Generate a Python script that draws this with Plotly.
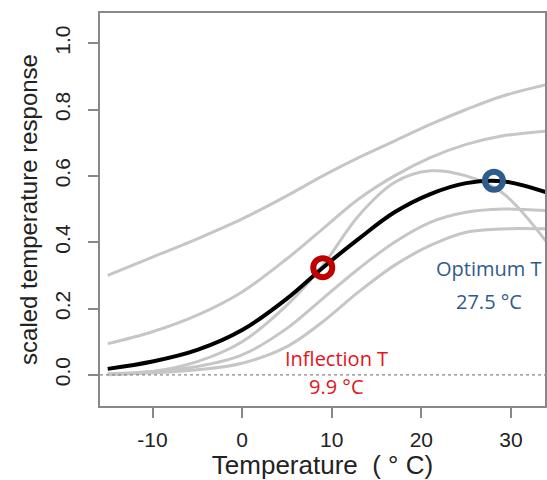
import plotly.graph_objects as go

# Temperature grid (°C) at which curve values were read
temps = [-15, -10, -5, 0, 5, 9, 13, 17, 21, 25, 29, 34]

# Grey background curves (individual responses)
curve_a = [0.30, 0.355, 0.41, 0.47, 0.54, 0.60, 0.655, 0.705, 0.755, 0.80, 0.84, 0.875]
curve_b = [0.094, 0.13, 0.18, 0.25, 0.35, 0.44, 0.53, 0.60, 0.655, 0.695, 0.72, 0.735]
curve_c = [0.0, 0.01, 0.04, 0.10, 0.21, 0.33, 0.48, 0.58, 0.615, 0.60, 0.55, 0.40]
curve_d = [0.003, 0.01, 0.025, 0.06, 0.14, 0.23, 0.32, 0.40, 0.46, 0.49, 0.50, 0.495]
curve_e = [0.002, 0.006, 0.015, 0.035, 0.085, 0.16, 0.25, 0.33, 0.39, 0.43, 0.44, 0.44]
grey_curves = [curve_a, curve_b, curve_c, curve_d, curve_e]

# Mean (black) curve
mean_curve = [0.018, 0.04, 0.075, 0.135, 0.23, 0.323, 0.41, 0.49, 0.545, 0.578, 0.584, 0.55]

# Highlighted points
inflection_pt = (9.0, 0.323)
optimum_pt = (28.1, 0.585)
inflection_label = ["Inflection T", "9.9 °C"]
optimum_label = ["Optimum T", "27.5 °C"]

x_ticks = [-10, 0, 10, 20, 30]
x_ticktext = ["-10", "0", "10", "20", "30"]
y_ticks = [0.0, 0.2, 0.4, 0.6, 0.8, 1.0]
y_ticktext = ["0.0", "0.2", "0.4", "0.6", "0.8", "1.0"]

fig = go.Figure()
for c in grey_curves:
    fig.add_trace(go.Scatter(x=temps, y=c, mode="lines", line=dict(color="#c6c6c6", width=3, shape="spline"),
                             hoverinfo="skip", showlegend=False))
fig.add_trace(go.Scatter(x=temps, y=mean_curve, mode="lines", line=dict(color="black", width=4, shape="spline"),
                         showlegend=False))
fig.add_trace(go.Scatter(x=[inflection_pt[0]], y=[inflection_pt[1]], mode="markers",
                         marker=dict(symbol="circle-open", size=19, color="#c00000", line=dict(width=6, color="#c00000")),
                         showlegend=False))
fig.add_trace(go.Scatter(x=[optimum_pt[0]], y=[optimum_pt[1]], mode="markers",
                         marker=dict(symbol="circle-open", size=18, color="#2c5d8c", line=dict(width=6, color="#2c5d8c")),
                         showlegend=False))

fig.add_shape(type="line", xref="paper", x0=0, x1=1, yref="y", y0=0, y1=0,
              line=dict(color="#888888", width=1.2, dash="dot"))

txtfont = "'Open Sans', Lato, sans-serif"
fig.add_annotation(x=10.5, y=0.05, text=inflection_label[0], showarrow=False,
                   font=dict(family=txtfont, size=20, color="#e3141b"))
fig.add_annotation(x=10.5, y=-0.035, text=inflection_label[1], showarrow=False,
                   font=dict(family=txtfont, size=20, color="#e3141b"))
fig.add_annotation(x=27.5, y=0.32, text=optimum_label[0], showarrow=False,
                   font=dict(family=txtfont, size=20, color="#2f5b8a"))
fig.add_annotation(x=27.5, y=0.22, text=optimum_label[1], showarrow=False,
                   font=dict(family=txtfont, size=20, color="#2f5b8a"))

fam = "Liberation Sans, Arial, sans-serif"
axfont = dict(family=fam, size=21, color="#222")
fig.update_xaxes(range=[-15.86, 33.8], tickvals=x_ticks, ticktext=x_ticktext, ticks="outside", ticklen=10,
                 tickcolor="#888", tickwidth=1.5, showgrid=False, zeroline=False, showline=True, linecolor="#888",
                 linewidth=1.5, mirror=True, tickfont=axfont, ticklabelstandoff=4,
                 title=dict(text="Temperature  ( ° C)", font=dict(family=fam, size=26, color="#222"),
                            standoff=6))
fig.update_yaxes(range=[-0.094, 1.091], tickvals=y_ticks, ticktext=y_ticktext,
                 tickangle=-90, ticks="outside", ticklen=10, tickcolor="#888", tickwidth=1.5,
                 showgrid=False, zeroline=False, showline=True, linecolor="#888", linewidth=1.5, mirror=True,
                 tickfont=axfont, ticklabelstandoff=10,
                 title=dict(text="scaled temperature response", font=dict(family=fam, size=24, color="#222"),
                            standoff=6))
fig.update_layout(width=547, height=480, margin=dict(l=100, r=0, t=13, b=74),
                  plot_bgcolor="white", paper_bgcolor="white")
fig.write_html("out.html")
